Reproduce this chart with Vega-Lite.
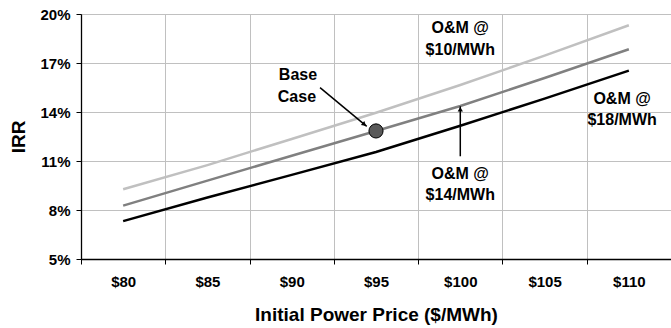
{
  "$schema": "https://vega.github.io/schema/vega-lite/v6.json",
  "width": 590,
  "height": 245,
  "autosize": {"type": "none"},
  "padding": {"left": 81, "top": 14, "right": 0, "bottom": 69},
  "background": "white",
  "config": {
    "font": "Liberation Sans",
    "view": {"stroke": "#808080", "strokeWidth": 1},
    "axis": {
      "labelFont": "Liberation Sans",
      "labelFontWeight": "bold",
      "labelFontSize": 15,
      "labelColor": "#000000",
      "titleFont": "Liberation Sans",
      "titleFontWeight": "bold",
      "titleColor": "#000000",
      "domainColor": "#000000",
      "domainWidth": 1.3,
      "tickColor": "#000000",
      "tickSize": 5,
      "gridColor": "#c0c0c0",
      "gridWidth": 1
    }
  },
  "datasets": {
    "lines": [
      {"series": "$10", "price": 80, "irr": 9.27},
      {"series": "$10", "price": 85, "irr": 10.75},
      {"series": "$10", "price": 90, "irr": 12.35},
      {"series": "$10", "price": 95, "irr": 13.95},
      {"series": "$10", "price": 100, "irr": 15.65},
      {"series": "$10", "price": 105, "irr": 17.45},
      {"series": "$10", "price": 110, "irr": 19.31},
      {"series": "$14", "price": 80, "irr": 8.27},
      {"series": "$14", "price": 85, "irr": 9.8},
      {"series": "$14", "price": 90, "irr": 11.32},
      {"series": "$14", "price": 95, "irr": 12.84},
      {"series": "$14", "price": 100, "irr": 14.37},
      {"series": "$14", "price": 105, "irr": 16.08},
      {"series": "$14", "price": 110, "irr": 17.84},
      {"series": "$18", "price": 80, "irr": 7.32},
      {"series": "$18", "price": 85, "irr": 8.77},
      {"series": "$18", "price": 90, "irr": 10.15},
      {"series": "$18", "price": 95, "irr": 11.55},
      {"series": "$18", "price": 100, "irr": 13.16},
      {"series": "$18", "price": 105, "irr": 14.82},
      {"series": "$18", "price": 110, "irr": 16.53}
    ],
    "labels": [
      {"t": "O&M @", "price": 100, "irr": 19.12},
      {"t": "$10/MWh", "price": 100, "irr": 17.78},
      {"t": "O&M @", "price": 100, "irr": 10.18},
      {"t": "$14/MWh", "price": 100, "irr": 8.9},
      {"t": "O&M @", "price": 109.6, "irr": 14.82},
      {"t": "$18/MWh", "price": 109.6, "irr": 13.53},
      {"t": "Base", "price": 90.37, "irr": 16.25},
      {"t": "Case", "price": 90.31, "irr": 14.92}
    ]
  },
  "layer": [
    {
      "data": {"name": "lines"},
      "mark": {"type": "line", "strokeWidth": 2.5},
      "encoding": {
        "x": {
          "field": "price",
          "type": "quantitative",
          "scale": {"domain": [77.5, 112.5], "nice": false, "zero": false},
          "axis": {
            "values": [77.5, 80, 82.5, 85, 87.5, 90, 92.5, 95, 97.5, 100, 102.5, 105, 107.5, 110, 112.5],
            "labelExpr": "datum.value % 5 == 0 ? '$' + datum.value : ''",
            "labelOverlap": false,
            "labelFlush": false,
            "labelPadding": 10,
            "tickOpacity": {"condition": {"test": "datum.value % 5 == 0", "value": 0}, "value": 1},
            "gridOpacity": {"condition": {"test": "datum.value % 5 == 0", "value": 0}, "value": 1},
            "title": "Initial Power Price ($/MWh)",
            "titleFontSize": 19,
            "titleY": 55,
            "titleBaseline": "middle"
          }
        },
        "y": {
          "field": "irr",
          "type": "quantitative",
          "scale": {"domain": [5, 20], "nice": false, "zero": false},
          "axis": {
            "values": [5, 8, 11, 14, 17, 20],
            "labelExpr": "datum.value + '%'",
            "labelPadding": 6,
            "title": "IRR",
            "titleFontSize": 19,
            "titleX": -63,
            "titleY": 122.5,
            "titleAngle": -90,
            "titleAlign": "center",
            "titleBaseline": "middle"
          }
        },
        "color": {
          "field": "series",
          "type": "nominal",
          "scale": {"domain": ["$10", "$14", "$18"], "range": ["#c0c0c0", "#808080", "#000000"]},
          "legend": null
        }
      }
    },
    {
      "data": {"values": [
        {"price": 91.68, "irr": 15.49, "price2": 94.45, "irr2": 13.12},
        {"price": 100, "irr": 11.29, "price2": 100, "irr2": 14.35}
      ]},
      "mark": {"type": "rule", "color": "#000000", "strokeWidth": 1.5},
      "encoding": {
        "x": {"field": "price", "type": "quantitative"},
        "y": {"field": "irr", "type": "quantitative"},
        "x2": {"field": "price2"},
        "y2": {"field": "irr2"}
      }
    },
    {
      "data": {"values": [{"price": 94.31, "irr": 13.24}]},
      "mark": {"type": "point", "shape": "triangle-up", "filled": true, "color": "#000000", "size": 28, "angle": 130, "opacity": 1},
      "encoding": {
        "x": {"field": "price", "type": "quantitative"},
        "y": {"field": "irr", "type": "quantitative"}
      }
    },
    {
      "data": {"values": [{"price": 100, "irr": 14.17}]},
      "mark": {"type": "point", "shape": "triangle-up", "filled": true, "color": "#000000", "size": 28, "angle": 0, "opacity": 1},
      "encoding": {
        "x": {"field": "price", "type": "quantitative"},
        "y": {"field": "irr", "type": "quantitative"}
      }
    },
    {
      "data": {"values": [{"price": 95, "irr": 12.84}]},
      "mark": {"type": "point", "shape": "circle", "filled": true, "fill": "#595959", "stroke": "#000000", "strokeWidth": 1, "size": 200, "opacity": 1},
      "encoding": {
        "x": {"field": "price", "type": "quantitative"},
        "y": {"field": "irr", "type": "quantitative"}
      }
    },
    {
      "data": {"name": "labels"},
      "mark": {"type": "text", "font": "Liberation Sans", "fontWeight": "bold", "fontSize": 16, "align": "center", "baseline": "middle", "color": "#000000"},
      "encoding": {
        "x": {"field": "price", "type": "quantitative"},
        "y": {"field": "irr", "type": "quantitative"},
        "text": {"field": "t"}
      }
    }
  ]
}
